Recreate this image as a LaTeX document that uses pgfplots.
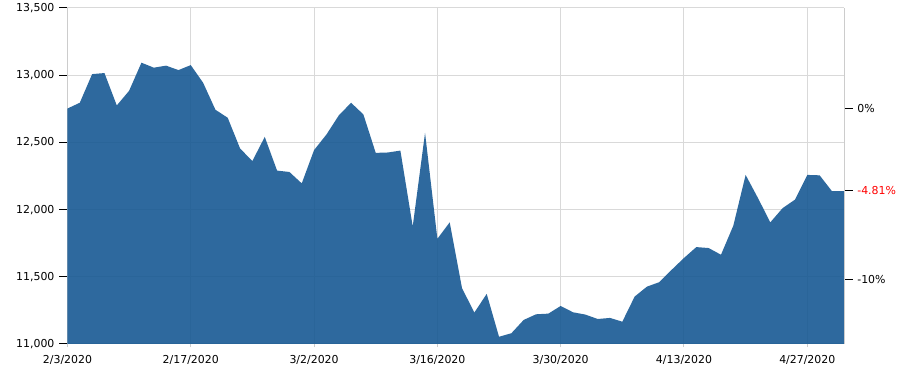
\documentclass[border=0pt]{standalone}
\usepackage{pgfplots}
\pgfplotsset{compat=1.18}
\usepackage{fontspec}
\setmainfont{DejaVu Sans}
\definecolor{areablue}{RGB}{23,89,147}
\definecolor{gridgray}{RGB}{217,217,217}
\definecolor{axisgray}{RGB}{204,204,204}
\begin{document}
\begin{tikzpicture}
\pgfplotsset{
  base/.style={
    scale only axis, width=582.6pt, height=252pt,
    xmin=0, xmax=63, ymin=11000, ymax=13500,
    scaled y ticks=false, scaled x ticks=false,
    tick align=outside,
    major tick length=6.25pt,
    axis line style={draw=axisgray, line width=0.75pt, -},
    tick label style={font=\fontsize{8.2}{10}\selectfont, text=black},
    /pgf/number format/.cd, 1000 sep={,}, assume math mode=true,
  }
}
\begin{axis}[base,
  axis x line*=bottom, axis y line*=left,
  xtick={0,10,...,60},
  xticklabels={2/3/2020,2/17/2020,3/2/2020,3/16/2020,3/30/2020,4/13/2020,4/27/2020},
  ytick={11000,11500,...,13500},
  grid=major,
  major grid style={draw=gridgray, line width=0.75pt},
  xtick style={draw=axisgray, line width=0.75pt, /pgfplots/major tick length=2.5pt},
  ytick style={draw=black, line width=0.75pt},
  yticklabel style={/pgf/number format/fixed},
  xticklabel style={yshift=1pt},
]
\addplot[fill=areablue, fill opacity=0.9, draw=none] coordinates {
(0,12752) (1,12795) (2,13008) (3,13016) (4,12775) (5,12884) (6,13093) (7,13056)
(8,13071) (9,13038) (10,13075) (11,12944) (12,12743) (13,12683) (14,12454) (15,12362)
(16,12541) (17,12290) (18,12280) (19,12195) (20,12443) (21,12558) (22,12700) (23,12795)
(24,12708) (25,12422) (26,12425) (27,12439) (28,11875) (29,12571) (30,11783) (31,11905)
(32,11415) (33,11234) (34,11373) (35,11054) (36,11080) (37,11179) (38,11221) (39,11226)
(40,11283) (41,11236) (42,11219) (43,11186) (44,11194) (45,11166) (46,11353) (47,11427)
(48,11460) (49,11552) (50,11640) (51,11721) (52,11714) (53,11664) (54,11880) (55,12258)
(56,12086) (57,11905) (58,12011) (59,12074) (60,12258) (61,12255) (62,12137) (63,12137)
} \closedcycle;
\coordinate (bl) at (rel axis cs:0,0);
\coordinate (tr) at (rel axis cs:1,1);
\end{axis}
\begin{axis}[base,
  axis x line=none, axis y line*=right,
  ytick={11477,12139,12752},
  yticklabels={-10\%,\textcolor{red}{-4.81\%},0\%},
  ytick style={draw=black, line width=0.75pt},
]
\end{axis}
\pgfresetboundingbox
\path[use as bounding box] ([xshift=-50.6pt,yshift=-19.5pt]bl) rectangle ([xshift=58.3pt,yshift=6pt]tr);
\end{tikzpicture}
\end{document}
